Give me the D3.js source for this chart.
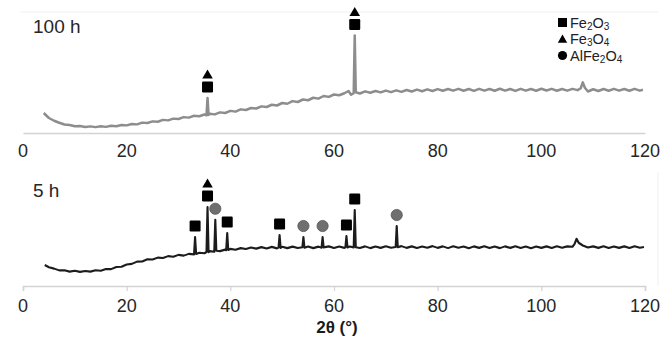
<!DOCTYPE html>
<html>
<head>
<meta charset="utf-8">
<script src="https://cdn.jsdelivr.net/npm/d3@7"></script>
<style>
  html, body { margin: 0; padding: 0; background: #fff; }
  svg { display: block; font-family: "Liberation Sans", Arial, sans-serif; }
</style>
</head>
<body>
<svg id="chart" width="667" height="337"></svg>
<script>
// XRD patterns: [2θ (°), intensity (a.u.)]
const pattern100h = [[4,16],[5,12],[6,9.8],[7,8.2],[8,6.8],[9,6.4],[10,5.4],[11,5.6],[12,4.8],[13,5.3],[14,4.7],[15,5.4],[16,4.9],[17,5.8],[18,5.4],[19,6.4],[20,6.1],[21,7.2],[22,6.9],[23,8.3],[24,8.0],[25,9.3],[26,9.0],[27,10.5],[28,10.1],[29,11.5],[30,11.2],[31,12.7],[32,12.3],[33,13.8],[34,13.4],[35,14.8],[35.4,14.2],[35.6,28],[35.8,14.5],[36,15.4],[37,14.9],[38,16.5],[39,16.0],[40,17.7],[41,17.1],[42,18.9],[43,18.4],[44,20.0],[45,19.6],[46,21.3],[47,20.8],[48,22.6],[49,22.0],[50,24.0],[51,23.4],[52,25.5],[53,24.8],[54,26.8],[55,26.2],[56,28.2],[57,27.5],[58,29.6],[59,28.9],[60,30.8],[61,30.2],[62,31.8],[62.8,33.6],[63.3,30.6],[63.8,31.8],[64.0,78],[64.2,32.6],[65,31.6],[66,33.3],[67,32.2],[68,33.6],[69,32.5],[70,33.9],[71,32.7],[72,34.1],[73,32.9],[74,34.4],[75,33.2],[76,34.7],[77,33.4],[78,34.9],[79,33.6],[80,35.1],[81,33.8],[82,35.2],[83,33.9],[84,35.3],[85,33.8],[86,35.2],[87,33.7],[88,35.3],[89,33.9],[90,35.2],[91,33.8],[92,35.4],[93,33.9],[94,35.2],[95,33.7],[96,35.3],[97,33.9],[98,35.2],[99,33.8],[100,35.4],[101,34.0],[102,35.3],[103,33.8],[104,35.2],[105,33.9],[106,35.3],[107,34.3],[107.6,35.8],[108.0,40.5],[108.4,36.2],[109,33.2],[110,35.0],[111,33.6],[112,35.2],[113,33.8],[114,35.3],[115,33.9],[116,35.2],[117,33.8],[118,35.3],[119,33.9],[119.6,34.6]];

const pattern5h = [[4.2,16.8],[5,15.0],[6,13.9],[7,12.5],[8,12.6],[9,11.5],[10,12.2],[11,11.3],[12,12.0],[13,11.5],[14,12.6],[15,12.2],[16,13.6],[17,13.5],[18,15.2],[19,15.4],[20,17.2],[21,17.7],[22,19.5],[23,19.6],[24,21.4],[25,21.2],[26,22.7],[27,22.4],[28,23.9],[29,23.4],[30,24.9],[31,24.3],[32,25.7],[33.0,25.3],[33.2,39.2],[33.4,25.6],[34,26.6],[35,26.2],[35.4,27.2],[35.6,63.2],[35.8,27.1],[36,27.9],[36.9,27.4],[37.1,53],[37.3,28.2],[38,27.9],[39,29.1],[39.2,28.6],[39.4,42.4],[39.6,28.8],[40,29.7],[41,29.0],[42,30.3],[43,29.6],[44,30.8],[45,29.9],[46,31.1],[47,30.0],[48,31.3],[49,30.1],[49.3,30.7],[49.5,40.8],[49.7,30.5],[50,31.4],[51,30.3],[52,31.5],[53,30.4],[53.9,31.0],[54.1,39.2],[54.3,30.6],[55,31.6],[56,30.3],[57,31.5],[57.6,30.6],[57.8,39.2],[58.0,30.9],[59,31.7],[60,30.4],[61,31.6],[62,30.5],[62.2,31.0],[62.4,40],[62.6,30.8],[63,31.6],[63.8,30.9],[64.0,60.8],[64.2,31.0],[65,30.4],[66,31.7],[67,30.3],[68,31.6],[69,30.5],[70,31.8],[71,30.6],[71.9,31.2],[72.1,48],[72.3,31.0],[73,31.9],[74,30.5],[75,31.7],[76,30.4],[77,31.6],[78,30.6],[79,31.9],[80,30.5],[81,31.7],[82,30.3],[83,31.8],[84,30.6],[85,31.6],[86,30.2],[87,31.7],[88,30.5],[89,31.8],[90,30.4],[91,31.6],[92,30.3],[93,31.7],[94,30.5],[95,31.8],[96,30.4],[97,31.6],[98,30.2],[99,31.6],[100,30.5],[101,31.7],[102,30.4],[103,31.8],[104,30.6],[105,31.7],[106,31.4],[106.4,33.5],[106.8,37.8],[107.2,34.6],[108,32.4],[109,30.8],[110,31.7],[111,30.5],[112,31.8],[113,30.4],[114,31.6],[115,30.5],[116,31.7],[117,30.4],[118,31.8],[119,30.6],[119.8,31.2]];

// Phase identification of reflections (2θ, phases stacked bottom-up)
const peaks100h = [
  { t: 35.6, phases: ["Fe2O3", "Fe3O4"] },
  { t: 64.0, phases: ["Fe2O3", "Fe3O4"] }
];
const peaks5h = [
  { t: 33.2, phases: ["Fe2O3"] },
  { t: 35.6, phases: ["Fe2O3", "Fe3O4"] },
  { t: 37.1, phases: ["AlFe2O4"] },
  { t: 39.4, phases: ["Fe2O3"] },
  { t: 49.5, phases: ["Fe2O3"] },
  { t: 54.1, phases: ["AlFe2O4"] },
  { t: 57.8, phases: ["AlFe2O4"] },
  { t: 62.4, phases: ["Fe2O3"] },
  { t: 64.0, phases: ["Fe2O3"] },
  { t: 72.1, phases: ["AlFe2O4"] }
];

const xTicks = [0, 20, 40, 60, 80, 100, 120];
const sampleLabels = ["100 h", "5 h"];
const phaseNames = ["Fe2O3", "Fe3O4", "AlFe2O4"];
// legend text split into [text, isSubscript] runs
const phaseLabels = [
  [["Fe", false], ["2", true], ["O", false], ["3", true]],
  [["Fe", false], ["3", true], ["O", false], ["4", true]],
  [["AlFe", false], ["2", true], ["O", false], ["4", true]]
];
const axisTitle = "2θ (°)";

const svg = d3.select("#chart");

const x = d3.scaleLinear().domain([0, 120]).range([23, 645]);

const panels = [
  { data: pattern100h, peaks: peaks100h, label: sampleLabels[0],
    y: d3.scaleLinear().domain([0, 100]).range([133, 8]),
    color: "#8d8d8d", width: 2.5, ticks: false, labelY: 33, tickY: 157 },
  { data: pattern5h, peaks: peaks5h, label: sampleLabels[1],
    y: d3.scaleLinear().domain([0, 100]).range([286, 161]),
    color: "#1c1c1c", width: 2.1, ticks: true, labelY: 197, tickY: 312 }
];

// faint plot-area borders
svg.append("line").attr("x1", 20).attr("x2", 658).attr("y1", 12).attr("y2", 12)
  .attr("stroke", "#f0f0f0").attr("stroke-width", 1);
svg.append("line").attr("x1", 658).attr("x2", 658).attr("y1", 172).attr("y2", 286)
  .attr("stroke", "#f0f0f0").attr("stroke-width", 1);

function drawMarker(g, phase, cx, cy) {
  if (phase === "Fe2O3") {
    g.append("rect").attr("x", cx - 5.5).attr("y", cy - 5.5)
      .attr("width", 11).attr("height", 11).attr("rx", 1.2)
      .attr("fill", "#000");
  } else if (phase === "Fe3O4") {
    g.append("path")
      .attr("d", d3.symbol().type(d3.symbolTriangle).size(48)())
      .attr("transform", `translate(${cx},${cy + 1})`)
      .attr("fill", "#000");
  } else {
    g.append("circle").attr("cx", cx).attr("cy", cy).attr("r", 5.6)
      .attr("fill", "#6f6f6f").attr("stroke", "#555").attr("stroke-width", 0.8);
  }
}

panels.forEach(p => {
  const g = svg.append("g");

  // x axis
  const axis = d3.axisBottom(x).tickValues(xTicks)
    .tickSize(p.ticks ? 5 : 0).tickPadding(0).tickFormat("");
  const ag = g.append("g").attr("transform", `translate(0,${p.y(0)})`).call(axis);
  ag.select(".domain").attr("stroke", "#d3d3d3").attr("stroke-width", 1.6);
  ag.selectAll(".tick line").attr("stroke", "#d3d3d3").attr("stroke-width", 1.2);

  g.selectAll("text.tick-label").data(xTicks).join("text")
    .attr("class", "tick-label")
    .attr("x", d => x(d)).attr("y", p.tickY)
    .attr("text-anchor", "middle")
    .attr("font-size", 18).attr("fill", "#262626")
    .text(d => d);

  // pattern
  const line = d3.line().x(d => x(d[0])).y(d => p.y(d[1]));
  g.append("path").datum(p.data)
    .attr("d", line)
    .attr("fill", "none")
    .attr("stroke", p.color)
    .attr("stroke-width", p.width)
    .attr("stroke-linejoin", "round");

  // phase markers above each reflection
  p.peaks.forEach(pk => {
    const top = d3.max(p.data.filter(d => Math.abs(d[0] - pk.t) < 0.25), d => d[1]);
    const base = p.y(top) - 11;
    pk.phases.forEach((ph, i) => drawMarker(g, ph, x(pk.t), base - i * 12.5));
  });

  // sample label
  g.append("text").attr("x", 33).attr("y", p.labelY)
    .attr("font-size", 19).attr("fill", "#262626").text(p.label);
});

// legend
const legend = svg.append("g");
phaseNames.forEach((ph, i) => {
  const cy = 22.5 + i * 16.5;
  if (ph === "Fe2O3") {
    legend.append("rect").attr("x", 558).attr("y", cy - 4.5).attr("width", 9).attr("height", 9).attr("fill", "#000");
  } else if (ph === "Fe3O4") {
    legend.append("path").attr("d", d3.symbol().type(d3.symbolTriangle).size(38)())
      .attr("transform", `translate(562.5,${cy + 1})`).attr("fill", "#000");
  } else {
    legend.append("circle").attr("cx", 562.5).attr("cy", cy).attr("r", 4.6).attr("fill", "#000");
  }
  const t = legend.append("text").attr("x", 570).attr("y", cy + 5.3)
    .attr("font-size", 14.5).attr("fill", "#222");
  phaseLabels[i].forEach(([s, sub]) => {
    t.append("tspan").attr("font-size", sub ? 10 : 14.5)
      .attr("baseline-shift", sub ? "-1.5" : null)
      .text(s);
  });
});

// axis title
svg.append("text").attr("x", 337).attr("y", 333)
  .attr("text-anchor", "middle").attr("font-size", 17).attr("font-weight", "bold")
  .attr("fill", "#1a1a1a").text(axisTitle);
</script>
</body>
</html>
